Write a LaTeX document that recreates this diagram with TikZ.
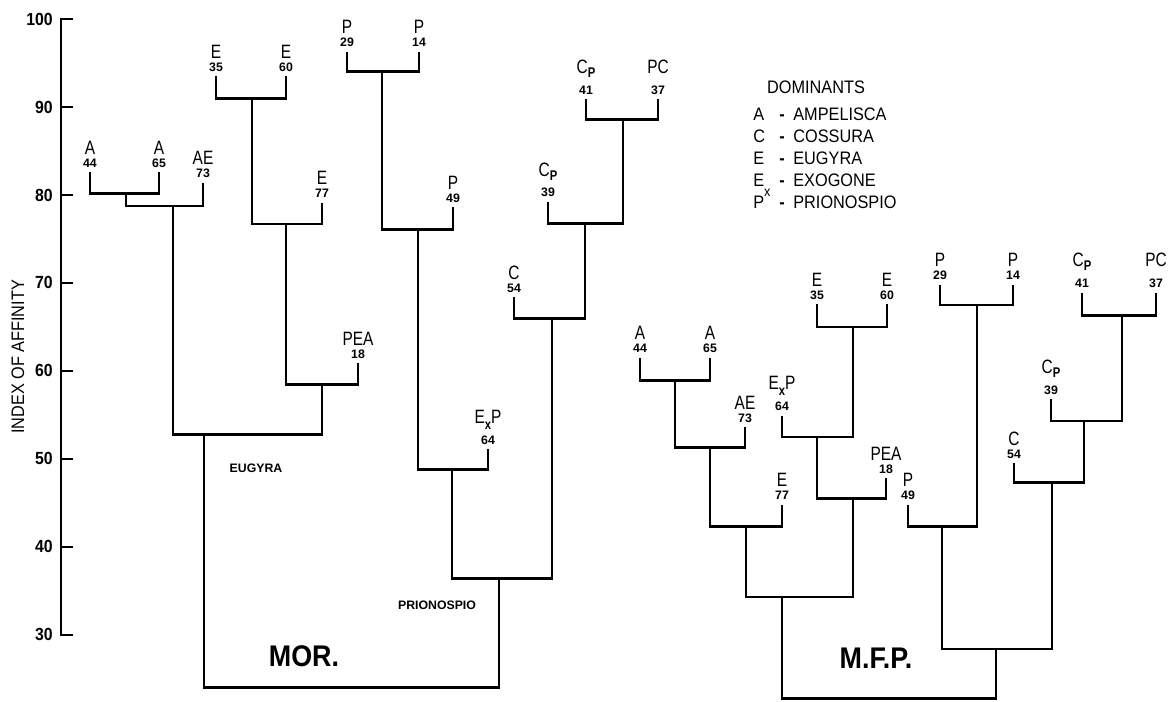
\documentclass[tikz,border=0pt]{standalone}
\usepackage{fontspec}
\setmainfont{Liberation Sans}[FakeStretch=0.9]
\newfontfamily\narrowfont{Liberation Sans}[FakeStretch=0.8]
\newfontfamily\plainfont{Liberation Sans}
\usetikzlibrary{positioning}

\tikzset{
  branch/.style={line width=1.6pt, line join=miter},
  taxon/.style={font=\narrowfont\fontsize{11}{11}\selectfont, inner sep=0pt, anchor=base},
  tally/.style={font=\plainfont\bfseries\fontsize{7}{7}\selectfont, inner sep=0pt, anchor=base},
  ticklab/.style={font=\bfseries\fontsize{10}{10}\selectfont, inner sep=0pt, anchor=east},
  keytext/.style={font=\fontsize{10.3}{10.3}\selectfont, inner sep=0pt, anchor=base west},
  grouplab/.style={font=\plainfont\bfseries\fontsize{7}{7}\selectfont, inner sep=0pt},
  sitelab/.style={font=\bfseries\fontsize{17}{17}\selectfont, inner sep=0pt},
}

% C with P below, E with x below
\newcommand\cpsub{C\raisebox{-0.4ex}{\bfseries\fontsize{8}{8}\selectfont P}}
\newcommand\exsub{E\raisebox{-0.6ex}{\bfseries\fontsize{8}{8}\selectfont x}P}
\newcommand\exkey{E\raisebox{-1.1ex}{\fontsize{8}{8}\selectfont x}}

% leaf: [letter height] name, x, top, letters, number
\newcommand\taxonleaf[6][0.36cm]{%
  \coordinate (#2) at (#3,#4);
  \node[tally] (#2n) at ([yshift=0.1cm]#2) {#6};
  \node[taxon] (#2t) at ([yshift=#1]#2) {#5};
}

\begin{document}
\begin{tikzpicture}[x=0.02cm, y=0.176cm]
    \useasboundingbox (0,22.39) rectangle (1172,102.16);

    % axis
    \draw[line width=1.1pt] (73,100) -- (61,100) -- (61,30) -- (73,30);
    \foreach \t in {30,40,...,100} {
        \draw[line width=1.1pt] (61,\t) -- (73,\t);
        \node[ticklab] (lab\t) at (53,\t) {\t};
    }
    \node[rotate=90, inner sep=0pt, font=\fontsize{10.3}{10.3}\selectfont] (title) at (18,61.6) {INDEX OF AFFINITY};

    % legend
    \node[keytext, anchor=base] (dom) at (816,91.5) {DOMINANTS};
    \foreach \l/\n [count=\i] in {A/AMPELISCA, C/COSSURA, E/EUGYRA, \exkey/EXOGONE, P/PRIONOSPIO} {
        \node[keytext] (key\i) at (753,91-2.5*\i) {\l};
        \node[keytext] (dash\i) at (779,91-2.5*\i) {\bfseries -};
        \node[keytext] (name\i) at (793,91-2.5*\i) {\n};
    }

    % MOR. leaves
    \taxonleaf{mA44}{90}{82.6}{A}{44}
    \taxonleaf{mA65}{159}{82.6}{A}{65}
    \taxonleaf{mAE73}{203}{81.4}{AE}{73}
    \taxonleaf{mE35}{216}{93.5}{E}{35}
    \taxonleaf{mE60}{286}{93.5}{E}{60}
    \taxonleaf{mE77}{322}{79.1}{E}{77}
    \taxonleaf{mPEA18}{358}{60.9}{PEA}{18}
    \taxonleaf{mP29}{347}{96.25}{P}{29}
    \taxonleaf{mP14}{419}{96.25}{P}{14}
    \taxonleaf{mP49}{453}{78.6}{P}{49}
    \taxonleaf[0.52cm]{mExP64}{488}{51.1}{\exsub}{64}
    \taxonleaf[0.52cm]{mCp41}{586}{90.9}{\cpsub}{41}
    \taxonleaf[0.52cm]{mPC37}{658}{90.9}{PC}{37}
    \taxonleaf[0.52cm]{mCp39}{548}{79.2}{\cpsub}{39}
    \taxonleaf{mC54}{514}{68.4}{C}{54}

    % MOR. joins
    \coordinate (mj1) at (126,80.2);
    \coordinate (mj2) at (173,78.75);
    \coordinate (mj3) at (252,91.0);
    \coordinate (mj4) at (286,76.7);
    \coordinate (mj5) at (322,58.5);
    \coordinate (mj6) at (204,52.8);
    \coordinate (mj7) at (382,94.0);
    \coordinate (mj8) at (418,76.1);
    \coordinate (mj9) at (452,48.75);
    \coordinate (mj10) at (623,88.6);
    \coordinate (mj11) at (585,76.8);
    \coordinate (mj12) at (552,66.0);
    \coordinate (mj13) at (499,36.4);
    \coordinate (mroot) at (350,24.0);

    % M.F.P. leaves
    \taxonleaf{fA44}{640}{61.5}{A}{44}
    \taxonleaf{fA65}{710}{61.5}{A}{65}
    \taxonleaf{fAE73}{745}{53.6}{AE}{73}
    \taxonleaf{fE77}{782}{44.8}{E}{77}
    \taxonleaf{fE35}{817}{67.6}{E}{35}
    \taxonleaf{fE60}{887}{67.6}{E}{60}
    \taxonleaf[0.52cm]{fExP64}{782}{54.9}{\exsub}{64}
    \taxonleaf{fPEA18}{886}{47.8}{PEA}{18}
    \taxonleaf{fP29}{940}{69.8}{P}{29}
    \taxonleaf{fP14}{1013}{69.8}{P}{14}
    \taxonleaf{fP49}{908}{44.8}{P}{49}
    \taxonleaf[0.52cm]{fCp41}{1082}{68.9}{\cpsub}{41}
    \taxonleaf[0.52cm]{fPC37}{1156}{68.9}{PC}{37}
    \taxonleaf[0.52cm]{fCp39}{1051}{56.8}{\cpsub}{39}
    \taxonleaf{fC54}{1014}{49.5}{C}{54}

    % M.F.P. joins
    \coordinate (fj1) at (675,58.9);
    \coordinate (fj2) at (710,51.25);
    \coordinate (fj3) at (746,42.3);
    \coordinate (fj4) at (853,65.0);
    \coordinate (fj5) at (817,52.5);
    \coordinate (fj6) at (853,45.5);
    \coordinate (fj7) at (782,34.3);
    \coordinate (fj8) at (977,67.5);
    \coordinate (fj9) at (942,42.3);
    \coordinate (fj10) at (1122,66.3);
    \coordinate (fj11) at (1084,54.3);
    \coordinate (fj12) at (1052,47.3);
    \coordinate (fj13) at (996,28.4);
    \coordinate (froot) at (890,22.75);

    % edges
    \draw[branch]
        (mA44) |- (mj1) -| (mA65)
        (mj1) |- (mj2) -| (mAE73)
        (mE35) |- (mj3) -| (mE60)
        (mj3) |- (mj4) -| (mE77)
        (mj4) |- (mj5) -| (mPEA18)
        (mj2) |- (mj6) -| (mj5)
        (mP29) |- (mj7) -| (mP14)
        (mj7) |- (mj8) -| (mP49)
        (mj8) |- (mj9) -| (mExP64)
        (mCp41) |- (mj10) -| (mPC37)
        (mCp39) |- (mj11) -| (mj10)
        (mC54) |- (mj12) -| (mj11)
        (mj9) |- (mj13) -| (mj12)
        (mj6) |- (mroot) -| (mj13);
    \draw[branch]
        (fA44) |- (fj1) -| (fA65)
        (fj1) |- (fj2) -| (fAE73)
        (fj2) |- (fj3) -| (fE77)
        (fE35) |- (fj4) -| (fE60)
        (fExP64) |- (fj5) -| (fj4)
        (fj5) |- (fj6) -| (fPEA18)
        (fj3) |- (fj7) -| (fj6)
        (fP29) |- (fj8) -| (fP14)
        (fP49) |- (fj9) -| (fj8)
        (fCp41) |- (fj10) -| (fPC37)
        (fCp39) |- (fj11) -| (fj10)
        (fC54) |- (fj12) -| (fj11)
        (fj9) |- (fj13) -| (fj12)
        (fj7) |- (froot) -| (fj13);

    % group names
    \node[grouplab] (eug) at (256,48.9) {EUGYRA};
    \node[grouplab] (pri) at (437,33.4) {PRIONOSPIO};
    \node[sitelab] (mor) at (304,27.6) {MOR.};
    \node[sitelab] (mfp) at (876,27.4) {M.F.P.};
\end{tikzpicture}
\end{document}
